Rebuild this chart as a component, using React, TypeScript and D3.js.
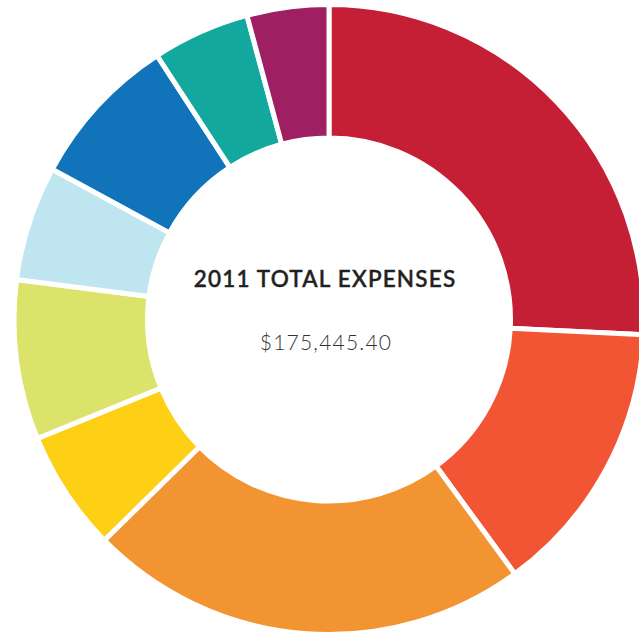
import React, { useEffect, useRef } from 'react';
import * as d3 from 'd3';

// Share of 2011 expenses per slice (percent), clockwise from 12 o'clock
const slices = ['A', 'B', 'C', 'D', 'E', 'F', 'G', 'H', 'I'];
const shares = [25.8, 14.2, 22.7, 6.2, 8.2, 5.9, 7.9, 5.0, 4.2];
const colors = [
  '#c41f35', '#f15533', '#f39432', '#fdd016', '#dce36a',
  '#bfe5f0', '#1174bb', '#13a89e', '#9e1f62'
];
const title = '2011 TOTAL EXPENSES';
const total = '$175,445.40';

const W = 639;
const H = 635;

export default function App() {
  const svgRef = useRef<SVGSVGElement>(null);

  useEffect(() => {
    if (!svgRef.current) return;
    const svg = d3.select(svgRef.current);
    svg.selectAll('*').remove();

    const cx = 329;
    const cy = 319.5;

    const data = slices.map((name, i) => ({ name, value: shares[i] }));

    const pie = d3.pie<{ name: string; value: number }>()
      .sort(null)
      .value(d => d.value);

    const arc = d3.arc<d3.PieArcDatum<{ name: string; value: number }>>()
      .innerRadius(181.5)
      .outerRadius(315);

    const g = svg.append('g').attr('transform', `translate(${cx},${cy})`);

    g.selectAll('path')
      .data(pie(data))
      .enter()
      .append('path')
      .attr('d', arc)
      .attr('fill', (d, i) => colors[i])
      .attr('stroke', '#fff')
      .attr('stroke-width', 5)
      .attr('stroke-linejoin', 'miter');

    // centre label
    g.append('text')
      .attr('x', -4)
      .attr('y', -33)
      .attr('text-anchor', 'middle')
      .attr('font-family', 'Lato, sans-serif')
      .attr('font-weight', 500)
      .attr('font-size', 22.5)
      .attr('letter-spacing', 1.2)
      .attr('fill', '#231f20')
      .attr('stroke', '#231f20')
      .attr('stroke-width', 0.5)
      .text(title);

    g.append('text')
      .attr('x', -3)
      .attr('y', 30)
      .attr('text-anchor', 'middle')
      .attr('font-family', 'Lato, sans-serif')
      .attr('font-weight', 300)
      .attr('font-size', 21)
      .attr('letter-spacing', 1.2)
      .attr('fill', '#333')
      .text(total);
  }, []);

  return (
    <svg
      ref={svgRef}
      width={W}
      height={H}
      style={{ position: 'absolute', left: 0, top: 0, background: '#fff' }}
    />
  );
}
